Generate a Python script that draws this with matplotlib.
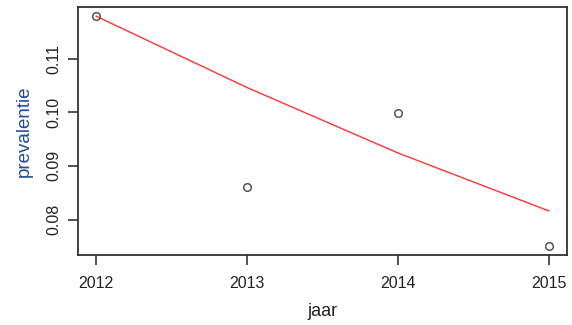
import matplotlib.pyplot as plt

plt.rcParams['font.family'] = ['Liberation Sans', 'DejaVu Sans']

jaar = [2012, 2013, 2014, 2015]
prevalentie = [0.1179, 0.0861, 0.0999, 0.0751]
# fitted trend
trend = [0.1179, 0.1046, 0.0924, 0.0816]

fig = plt.figure(figsize=(5.72, 3.25), dpi=100)
ax = fig.add_axes([0.1364, 0.2154, 0.8549, 0.7631])

ax.plot(jaar, trend, color='#ff3333', lw=1.0)
ax.plot(jaar, prevalentie, 'o', mfc='none', mec='#555555', ms=5.5, mew=1.1)

# R-style 4% padding
xr = max(jaar) - min(jaar)
ax.set_xlim(min(jaar) - 0.04 * xr, max(jaar) + 0.04 * xr)
lo, hi = min(prevalentie), max(prevalentie)
ax.set_ylim(lo - 0.04 * (hi - lo), hi + 0.04 * (hi - lo))

ax.set_xticks(jaar)
ax.set_xticklabels([str(j) for j in jaar])
ax.set_yticks([0.08, 0.09, 0.10, 0.11])
ax.set_yticklabels(['0.08', '0.09', '0.10', '0.11'], rotation=90, va='center')

ax.tick_params(direction='out', length=7, width=1.2, color='#333333',
               labelsize=11.5, labelcolor='#222222', pad=8)
ax.tick_params(axis='y', pad=5)
for s in ax.spines.values():
    s.set_color('#333333')
    s.set_linewidth(1.3)

ax.set_xlabel('jaar', fontsize=13, color='#222222', labelpad=9)
ax.set_ylabel('prevalentie', fontsize=13.5, color='#1f4a96', labelpad=10)

fig.savefig('out.png', dpi=100)
